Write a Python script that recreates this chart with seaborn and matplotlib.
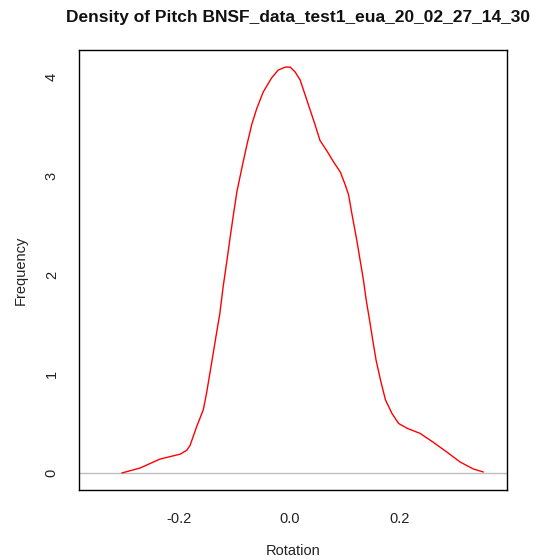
import matplotlib
matplotlib.use("Agg")
import matplotlib.pyplot as plt
import seaborn as sns
import pandas as pd

# Density curve points
rotation = [-0.304, -0.271, -0.235, -0.198, -0.186, -0.180, -0.168, -0.156, -0.150,
            -0.144, -0.138, -0.133, -0.126, -0.120, -0.113, -0.107, -0.101, -0.095,
            -0.086, -0.077, -0.068, -0.059, -0.047, -0.032, -0.020, -0.007, 0.002,
            0.011, 0.020, 0.029, 0.038, 0.047, 0.056, 0.069, 0.081, 0.093, 0.102,
            0.108, 0.114, 0.123, 0.129, 0.135, 0.140, 0.146, 0.152, 0.158, 0.166,
            0.175, 0.187, 0.199, 0.215, 0.238, 0.262, 0.287, 0.311, 0.335, 0.353]
density = [0.00, 0.05, 0.14, 0.19, 0.23, 0.28, 0.47, 0.64, 0.81,
           1.01, 1.21, 1.38, 1.61, 1.88, 2.15, 2.39, 2.62, 2.84,
           3.08, 3.31, 3.52, 3.68, 3.85, 3.99, 4.07, 4.10, 4.10,
           4.05, 3.97, 3.82, 3.67, 3.52, 3.36, 3.25, 3.14, 3.04, 2.91,
           2.81, 2.62, 2.35, 2.15, 1.95, 1.75, 1.55, 1.34, 1.14, 0.94,
           0.74, 0.60, 0.50, 0.45, 0.40, 0.31, 0.21, 0.11, 0.04, 0.01]
x_ticks = [-0.2, 0.0, 0.2]
x_tick_labels = ["-0.2", "0.0", "0.2"]
y_ticks = [0, 1, 2, 3, 4]
y_tick_labels = ["0", "1", "2", "3", "4"]
title = "Density of Pitch BNSF_data_test1_eua_20_02_27_14_30"
x_label = "Rotation"
y_label = "Frequency"

df = pd.DataFrame({"Rotation": rotation, "Density": density})

sns.set_style("white")
plt.rcParams["font.family"] = ["Liberation Sans", "DejaVu Sans"]

fig = plt.figure(figsize=(5.37, 5.6), dpi=100)
ax = fig.add_axes([79/537, 70/560, 428/537, 440/560])

ax.axhline(0, color="#bebebe", linewidth=1.0, zorder=1)
sns.lineplot(data=df, x="Rotation", y="Density", color="red", linewidth=1.0,
             sort=False, estimator=None, ax=ax, zorder=2)

ax.set_xlim(-0.382, 0.396)
ax.set_ylim(-0.172, 4.273)
ax.set_xticks(x_ticks)
ax.set_xticklabels(x_tick_labels)
ax.set_yticks(y_ticks)
ax.set_yticklabels(y_tick_labels, rotation=90, va="center")

for s in ax.spines.values():
    s.set_visible(True)
    s.set_color("black")
    s.set_linewidth(1.0)

ax.tick_params(axis="both", direction="out", length=6.5, width=0.8,
               color="#333333", labelsize=10.5, labelcolor="#222222")
ax.tick_params(axis="x", pad=9)
ax.tick_params(axis="y", pad=8)

ax.set_xlabel(x_label, fontsize=10.5, color="#222222", labelpad=13)
ax.set_ylabel(y_label, fontsize=10.5, color="#222222", labelpad=12)
ax.set_title(title, fontsize=12.5, fontweight="bold", color="#111111", pad=20, x=0.512)

fig.savefig("out.png", dpi=100)
